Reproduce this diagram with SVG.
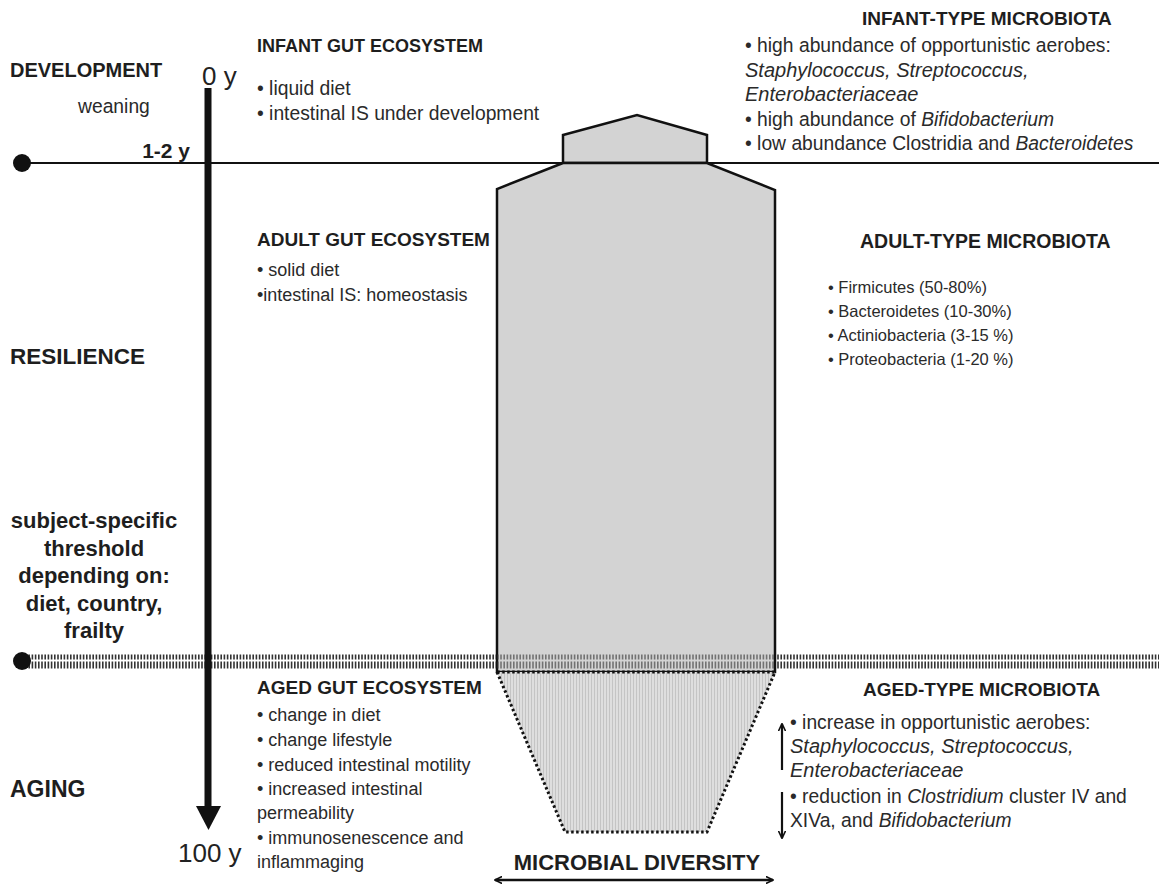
<svg xmlns="http://www.w3.org/2000/svg" width="1159" height="889" viewBox="0 0 1159 889">
<style>
text{font-family:"Liberation Sans",Arial,sans-serif;fill:#2a2a2a}
.b{font-weight:bold;fill:#1e1e1e}
.lab{font-size:22px}
.hd{font-size:19px}
.t{font-size:19.3px}
.ti{font-size:20px;font-style:italic}
.s{font-size:16.5px}
.m{font-size:18px}
.yr{font-size:26px;fill:#222}
.i{font-style:italic}
.shape{fill:#d3d3d3;stroke:#111;stroke-width:2.5;stroke-linejoin:miter}
</style>
<defs>
<pattern id="stripes" width="3" height="10" patternUnits="userSpaceOnUse">
<rect width="3" height="10" fill="#dedede"/>
<rect width="1" height="10" fill="#c4c4c4"/>
</pattern>
<marker id="ah" viewBox="0 0 10 10" refX="9" refY="5" markerWidth="8" markerHeight="8" orient="auto-start-reverse" markerUnits="userSpaceOnUse">
<path d="M0,0.5 L9.5,5 L0,9.5" fill="none" stroke="#111" stroke-width="2"/>
</marker>
</defs>
<rect width="1159" height="889" fill="#fff"/>

<g id="timeline">
<line x1="22" y1="163" x2="1159" y2="163" stroke="#111" stroke-width="2"/>
<circle cx="22" cy="163" r="9" fill="#111"/>
<line x1="22" y1="657" x2="1159" y2="657" stroke="#333" stroke-width="5" stroke-dasharray="1.6 1.6"/>
<line x1="22" y1="665" x2="1159" y2="665" stroke="#333" stroke-width="7" stroke-dasharray="1.6 1.6"/>
<circle cx="22" cy="661" r="9" fill="#111"/>
</g>

<g id="shape">
<path class="shape" d="M563,163 L563,135 L637,115 L707,135 L707,163 Z"/>
<path class="shape" d="M563,163 L497,189 L497,672 L775,672 L775,190 L707,163 Z"/>
<path d="M497,672 L565,832 L707,832 L775,672 Z" fill="url(#stripes)" stroke="#111" stroke-width="3" stroke-dasharray="2.5 2.5"/>
<line x1="497" y1="657" x2="775" y2="657" stroke="#333" stroke-width="5" stroke-dasharray="1.6 1.6" opacity="0.6"/>
<line x1="497" y1="665" x2="775" y2="665" stroke="#333" stroke-width="7" stroke-dasharray="1.6 1.6" opacity="0.6"/>
</g>

<g id="connectors">
<line x1="208" y1="88" x2="208" y2="808" stroke="#111" stroke-width="7"/>
<polygon points="196,806 221,806 208.5,830" fill="#111"/>
<line x1="782" y1="770" x2="782" y2="724" stroke="#111" stroke-width="2.2" marker-end="url(#ah)"/>
<line x1="782" y1="792" x2="782" y2="838" stroke="#111" stroke-width="2.2" marker-end="url(#ah)"/>
<line x1="495" y1="880" x2="773" y2="880" stroke="#111" stroke-width="2.5" marker-start="url(#ah)" marker-end="url(#ah)"/>
</g>

<g id="left-labels">
<text class="b" x="10" y="77" font-size="20">DEVELOPMENT</text>
<text class="t" x="78" y="113" font-size="18.5">weaning</text>
<text class="b" x="190" y="158" text-anchor="end" font-size="21">1-2 y</text>
<text class="yr" x="202" y="85">0 y</text>
<text class="b" x="10" y="364" font-size="22.5">RESILIENCE</text>
<text class="b lab" x="94" text-anchor="middle"><tspan x="94" y="528">subject-specific</tspan><tspan x="94" y="556">threshold</tspan><tspan x="94" y="583">depending on:</tspan><tspan x="94" y="611">diet, country,</tspan><tspan x="94" y="638">frailty</tspan></text>
<text class="b" x="10" y="797" font-size="23">AGING</text>
<text class="yr" x="178" y="862">100 y</text>
</g>

<g id="infant-gut">
<text class="b" x="257" y="52" font-size="18">INFANT GUT ECOSYSTEM</text>
<text class="t" x="257" y="95">• liquid diet</text>
<text class="t" x="257" y="120">• intestinal IS under development</text>
</g>

<g id="infant-microbiota">
<text class="b hd" x="862" y="25">INFANT-TYPE MICROBIOTA</text>
<text class="t" x="745" y="52">• high abundance of opportunistic aerobes:</text>
<text class="ti" x="745" y="77">Staphylococcus, Streptococcus,</text>
<text class="ti" x="745" y="101">Enterobacteriaceae</text>
<text class="t" x="745" y="126">• high abundance of <tspan class="i">Bifidobacterium</tspan></text>
<text class="t" x="745" y="150" font-size="20">• low abundance Clostridia and <tspan class="i">Bacteroidetes</tspan></text>
</g>

<g id="adult-gut">
<text class="b hd" x="257" y="246">ADULT GUT ECOSYSTEM</text>
<text class="m" x="257" y="276">• solid diet</text>
<text class="m" x="257" y="301">•intestinal IS: homeostasis</text>
</g>

<g id="adult-microbiota">
<text class="b" x="860" y="248" font-size="19.5">ADULT-TYPE MICROBIOTA</text>
<text class="s" x="828" y="293">• Firmicutes (50-80%)</text>
<text class="s" x="828" y="317">• Bacteroidetes (10-30%)</text>
<text class="s" x="828" y="341">• Actiniobacteria (3-15 %)</text>
<text class="s" x="828" y="365">• Proteobacteria (1-20 %)</text>
</g>

<g id="aged-gut">
<text class="b hd" x="257" y="694">AGED GUT ECOSYSTEM</text>
<text class="m" x="257" y="721">• change in diet</text>
<text class="m" x="257" y="746">• change lifestyle</text>
<text class="m" x="257" y="771">• reduced intestinal motility</text>
<text class="m" x="257" y="795">• increased intestinal</text>
<text class="m" x="257" y="819">permeability</text>
<text class="m" x="257" y="844">• immunosenescence and</text>
<text class="m" x="257" y="868">inflammaging</text>
</g>

<g id="aged-microbiota">
<text class="b hd" x="863" y="696">AGED-TYPE MICROBIOTA</text>
<text class="t" x="790" y="729">• increase in opportunistic aerobes:</text>
<text class="ti" x="790" y="753" font-size="19.5">Staphylococcus, Streptococcus,</text>
<text class="ti" x="790" y="777" font-size="19.5">Enterobacteriaceae</text>
<text class="t" x="790" y="803">• reduction in <tspan class="i">Clostridium</tspan> cluster IV and</text>
<text class="t" x="790" y="827">XIVa, and <tspan class="i">Bifidobacterium</tspan></text>
</g>

<g id="diversity">
<text class="b" x="637" y="870" text-anchor="middle" font-size="22">MICROBIAL DIVERSITY</text>
</g>
</svg>
